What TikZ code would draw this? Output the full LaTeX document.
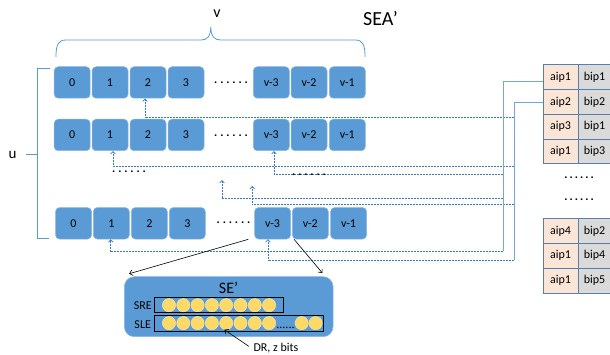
\documentclass[tikz,border=0pt]{standalone}
\usepackage{fontspec}
\setmainfont{Carlito}
\usetikzlibrary{arrows.meta}
\definecolor{boxblue}{HTML}{5B9BD5}
\definecolor{boxedge}{HTML}{8AB6E2}
\definecolor{linkblue}{HTML}{3479C2}
\definecolor{trunkblue}{HTML}{74A7DD}
\definecolor{aipfill}{HTML}{FBE5D6}
\definecolor{bipfill}{HTML}{DADADA}
\definecolor{tabedge}{HTML}{5580AE}
\definecolor{bitfill}{HTML}{FFD966}
\definecolor{bitedge}{HTML}{FBE9B0}
\newcommand\spreaddots[1]{{\bfseries\addfontfeatures{LetterSpace=#1}......}}
\begin{document}
\begin{tikzpicture}[x=1pt,y=-1pt,font=\fontsize{12}{14}\selectfont,
  cell/.style={rectangle, rounded corners=4pt, fill=boxblue, draw=boxedge,
    line width=0.5pt, minimum width=36pt, minimum height=31.5pt, inner sep=0pt},
  acell/.style={rectangle, fill=aipfill, draw=tabedge, line width=0.8pt,
    minimum width=35pt, minimum height=24.8pt, inner sep=0pt},
  bcell/.style={acell, fill=bipfill, minimum width=33pt},
  link/.style={draw=linkblue, line width=0.7pt, dash pattern=on 1pt off 0.5pt,
    -{Straight Barb[length=2.4pt,width=4.6pt]}},
  trunk/.style={draw=trunkblue, line width=0.9pt},
  brace/.style={draw=boxblue, line width=0.8pt},
  pointer/.style={draw=black, line width=0.6pt, -{Straight Barb[length=3pt,width=5.5pt]}},
  bit/.style={circle, fill=bitfill, draw=bitedge, line width=0.4pt,
    minimum size=13.3pt, inner sep=0pt},
  bitbar/.style={rectangle, draw=black, line width=0.8pt, inner sep=0pt},
  dotrun/.style={inner sep=0pt}]
\useasboundingbox (0,0) rectangle (610,355);
\clip (0,0) rectangle (610,355);

% titles and braces
\node[font=\fontsize{20}{22}\selectfont] (title) at (380.5,18.8) {SEA’};
\node[font=\fontsize{16}{18}\selectfont] (vlab) at (217,13.3) {v};
\draw[brace] (56,57) .. controls (56,45) and (58,40) .. (66,40) -- (201,40)
  .. controls (207,40) and (210.5,37) .. (210.8,27)
  .. controls (211.1,37) and (214.5,40) .. (221,40) -- (355,40)
  .. controls (363,40) and (365,45) .. (365,57);
\node[font=\fontsize{15}{17}\selectfont] (ulab) at (12.5,155.3) {u};
\draw[brace] (49.5,68) -- (37.7,68) -- (37.7,238.5) -- (49,238.5);
\draw[brace] (26,154) -- (37.7,154);

% rows of entries
\foreach \n/\t/\x in {0/0/72.2,1/1/110,2/2/148,3/3/186,4/v-3/271.3,5/v-2/309,6/v-1/347.3}{
  \node[cell] (r1c\n) at (\x,82.5) {\t};
  \node[cell] (r2c\n) at (\x,135) {\t};
  \node[cell] (r3c\n) at (\x+1.3,223.3) {\t};
}
\node[dotrun] (d1) at (231,82.3) {\spreaddots{24}};
\node[dotrun] (d2) at (231,136) {\spreaddots{24}};
\node[dotrun] (d3) at (233.5,222.3) {\spreaddots{24}};
\node[dotrun] (d4) at (129,171.7) {\spreaddots{24}};

% lookup table
\foreach \n/\a/\b/\y in {1/aip1/bip1/77.2,2/aip2/bip2/101.9,3/aip3/bip1/126.7,
    4/aip1/bip3/151.5,5/aip4/bip2/231,6/aip1/bip4/255.8,7/aip1/bip5/280.6}{
  \node[acell] (a\n) at (560.5,\y) {\a};
  \node[bcell] (b\n) at (594.5,\y) {\b};
}
\node[dotrun] (t1) at (579,178) {\spreaddots{17}};
\node[dotrun] (t2) at (579,199.5) {\spreaddots{17}};

% links from the table to the entries
\coordinate (k1) at (503,251.5);
\coordinate (k2) at (514,260.5);
\coordinate (j1) at (514,117.8);
\coordinate (j2) at (514,166.5);
\coordinate (j3) at (503,174.5);
\coordinate (j4) at (503,198);
\coordinate (j5) at (514,204);
\coordinate (f1) at (222,180);
\coordinate (f2) at (252.3,186);
\draw[link] (j1) -| ([xshift=-3pt]r1c2.south);
\draw[link] (j2) -| ([xshift=3pt]r2c1.south);
\draw[link] (j3) -| ([xshift=2.7pt]r2c4.south);
\draw[link] (j4) -| (f1);
\draw[link] (j5) -| (f2);
\draw[link] (k1) -| ([xshift=-0.6pt]r3c1.south);
\draw[link] (k2) -| ([xshift=-4.7pt]r3c4.south);
\draw[trunk] ([yshift=-4.5pt]a1.west) -| (k1);
\draw[trunk] ([yshift=-0.8pt]a2.west) -| (k2);
\node[dotrun] (d5) at (309,174.3) {\spreaddots{24}};

% entry detail
\node[rectangle, rounded corners=10pt, fill=boxblue, draw=boxedge, line width=0.5pt,
  minimum width=208.7pt, minimum height=60pt, inner sep=0pt] (se) at (228.7,306.7) {};
\node[font=\fontsize{16}{18}\selectfont] (setitle) at (228.5,287.7) {SE’};
\node (sre) at (142.7,306) {SRE};
\node (sle) at (142.7,324.5) {SLE};
\node[bitbar, minimum width=129.3pt, minimum height=15.4pt] (rebar) at (218.7,305) {};
\node[bitbar, minimum width=169pt, minimum height=16pt] (lebar) at (238.5,323) {};
\foreach \i in {0,...,7}{
  \node[bit] (e\i) at (169+14.3*\i,305.2) {};
  \node[bit] (l\i) at (169+14.3*\i,323.1) {};
}
\node[bit] (l8) at (301.7,323.1) {};
\node[bit] (l9) at (315.6,323.1) {};
\node[dotrun] (ledots) at (285.5,327.5) {......};
\node (dr) at (276,348) {DR, z bits};

\draw[pointer] ([xshift=-6pt]r3c4.south west) -- ([xshift=5pt,yshift=2.7pt]se.north west);
\draw[pointer] ([xshift=2pt]r3c5.south west) -- ([xshift=-11pt,yshift=3.5pt]se.north east);
\draw[pointer] ([xshift=-1pt,yshift=1.5pt]dr.west) -- (l4.-105);
\end{tikzpicture}
\end{document}
